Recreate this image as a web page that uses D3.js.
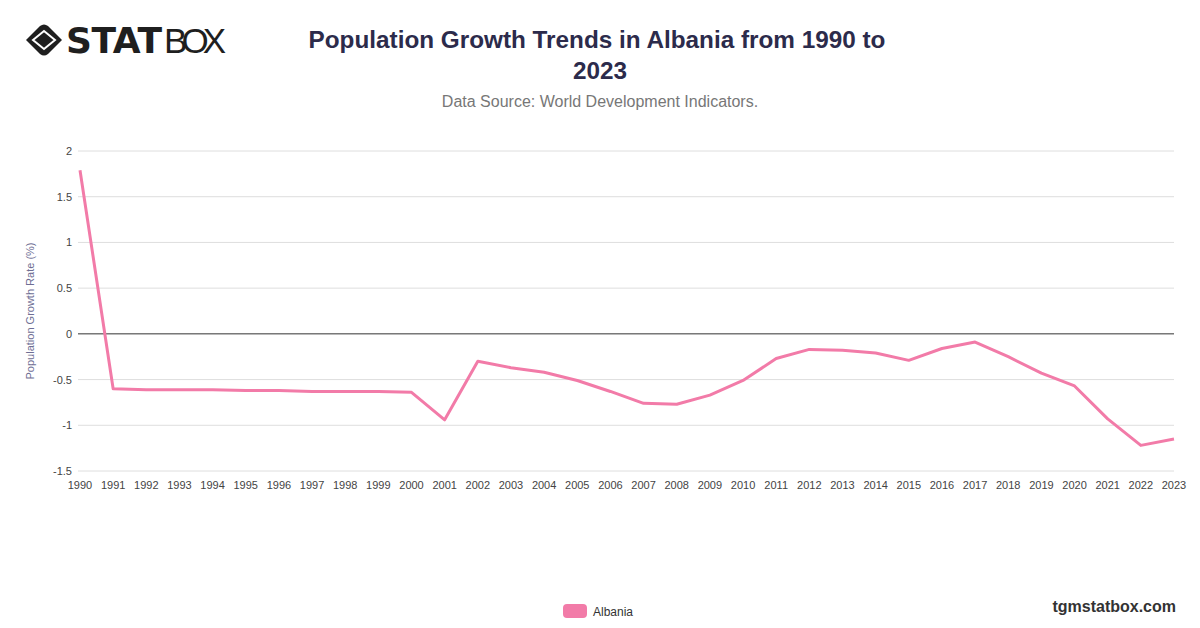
<!DOCTYPE html>
<html>
<head>
<meta charset="utf-8">
<script src="https://cdn.jsdelivr.net/npm/d3@7"></script>
<style>
  body { margin: 0; background: #fff; }
  svg { display: block; font-family: "Liberation Sans", Arial, sans-serif; }
</style>
</head>
<body>
<svg id="chart" width="1200" height="628"></svg>
<script>
// data
const years = d3.range(1990, 2024);
const growthRates = [
  1.79, -0.60, -0.61, -0.61, -0.61, -0.62, -0.62, -0.63, -0.63, -0.63,
  -0.64, -0.94, -0.30, -0.37, -0.42, -0.51, -0.63, -0.76, -0.77, -0.67,
  -0.51, -0.27, -0.17, -0.18, -0.21, -0.29, -0.16, -0.09, -0.25, -0.43,
  -0.57, -0.93, -1.22, -1.15
];
const yTicks = [-1.5, -1, -0.5, 0, 0.5, 1, 1.5, 2];
const seriesName = 'Albania';
const lineColor = '#f27ba8';

const svg = d3.select('#chart');
const margin = { left: 80, right: 26, top: 151, bottom: 157 };
const width = 1200, height = 628;

const x = d3.scalePoint()
  .domain(years)
  .range([margin.left, width - margin.right]);

const y = d3.scaleLinear()
  .domain([-1.5, 2])
  .range([height - margin.bottom, margin.top]);

// grid
svg.append('g')
  .selectAll('line')
  .data(yTicks)
  .join('line')
  .attr('x1', margin.left - 2)
  .attr('x2', width - margin.right)
  .attr('y1', d => y(d))
  .attr('y2', d => y(d))
  .attr('stroke', d => (d === 0 ? '#333' : '#dedede'))
  .attr('stroke-width', 1);

// y tick labels
svg.append('g')
  .selectAll('text')
  .data(yTicks)
  .join('text')
  .attr('x', 72)
  .attr('y', d => y(d) + 4)
  .attr('text-anchor', 'end')
  .attr('font-size', 11)
  .attr('fill', '#444')
  .text(d => d);

// x tick labels
svg.append('g')
  .selectAll('text')
  .data(years)
  .join('text')
  .attr('x', d => x(d))
  .attr('y', 489)
  .attr('text-anchor', 'middle')
  .attr('font-size', 11)
  .attr('fill', '#444')
  .text(d => d);

// y axis title
svg.append('text')
  .attr('transform', `translate(34, ${y(0.25)}) rotate(-90)`)
  .attr('text-anchor', 'middle')
  .attr('font-size', 11)
  .attr('fill', '#6e6e94')
  .text('Population Growth Rate (%)');

// line
const line = d3.line()
  .x((d, i) => x(years[i]))
  .y(d => y(d));

svg.append('path')
  .datum(growthRates)
  .attr('d', line)
  .attr('fill', 'none')
  .attr('stroke', lineColor)
  .attr('stroke-width', 3)
  .attr('stroke-linejoin', 'round');

// title + subtitle
const title = svg.append('text')
  .attr('text-anchor', 'middle')
  .attr('font-size', 24.3)
  .attr('font-weight', 'bold')
  .attr('fill', '#2c2b4b');
title.append('tspan').attr('x', 597).attr('y', 48).text('Population Growth Trends in Albania from 1990 to');
title.append('tspan').attr('x', 600).attr('y', 79).text('2023');

svg.append('text')
  .attr('x', 600)
  .attr('y', 107)
  .attr('text-anchor', 'middle')
  .attr('font-size', 16)
  .attr('fill', '#777')
  .text('Data Source: World Development Indicators.');

// legend
const legend = svg.append('g').attr('transform', 'translate(563, 604)');
legend.append('rect')
  .attr('width', 24)
  .attr('height', 14)
  .attr('rx', 4)
  .attr('fill', lineColor);
legend.append('text')
  .attr('x', 30)
  .attr('y', 11.5)
  .attr('font-size', 12)
  .attr('fill', '#333')
  .text(seriesName);

// footer
svg.append('text')
  .attr('x', 1176)
  .attr('y', 612)
  .attr('text-anchor', 'end')
  .attr('font-size', 16)
  .attr('font-weight', 'bold')
  .attr('fill', '#333')
  .text('tgmstatbox.com');

// logo
const logo = svg.append('g').attr('transform', 'translate(44, 40)');
logo.append('path')
  .attr('d', 'M-18,0 L-4,-14 Q0,-17 4,-14 L18,0 L4,14 Q0,17 -4,14 Z')
  .attr('fill', '#1f1f1f');
logo.append('path')
  .attr('d', 'M-11,0 L0,-9 L11,0 L0,9 Z')
  .attr('fill', 'none')
  .attr('stroke', '#fff')
  .attr('stroke-width', 2);
logo.append('text')
  .attr('x', 22)
  .attr('y', 13)
  .attr('font-size', 36)
  .attr('font-weight', 900)
  .attr('font-family', '"DejaVu Sans", sans-serif')
  .attr('fill', '#1f1f1f')
  .attr('textLength', 96)
  .text('STAT');
logo.append('text')
  .attr('x', 120)
  .attr('y', 13)
  .attr('font-size', 35)
  .attr('font-weight', 300)
  .attr('font-family', '"Liberation Sans", sans-serif')
  .attr('fill', '#1f1f1f')
  .attr('textLength', 62)
  .text('BOX');
</script>
</body>
</html>
